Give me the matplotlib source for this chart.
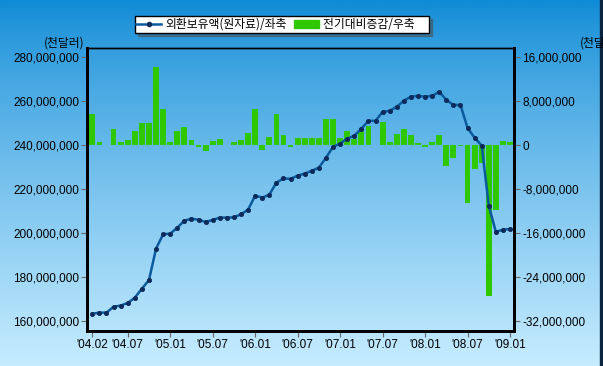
import numpy as np
import matplotlib.pyplot as plt
from matplotlib.lines import Line2D
from matplotlib.patches import Patch
from matplotlib.ticker import FuncFormatter

plt.rcParams['font.family'] = ['Liberation Sans', 'Noto Sans CJK KR', 'DejaVu Sans']

# 월 라벨 ('04.02 ~ '09.01)
months = []
for yy in range(4, 10):
    for mm in range(1, 13):
        months.append(f"'{yy:02d}.{mm:02d}")
months = months[1:61]

# 외환보유액 (백만 천달러 단위로 읽음)
reserves = [163.3, 163.8, 163.8, 166.5, 167.0, 168.2, 170.6, 174.7, 178.6, 192.9,
            199.4, 199.7, 202.4, 205.6, 206.5, 206.0, 205.0, 205.9, 207.0, 207.0,
            207.1, 208.5, 210.6, 217.0, 216.1, 217.4, 222.9, 224.8, 224.6, 226.1,
            227.0, 228.3, 229.7, 234.2, 239.2, 240.6, 242.9, 244.2, 247.4, 251.0,
            251.0, 255.1, 255.5, 257.4, 260.1, 262.0, 262.3, 262.0, 262.3, 264.2,
            260.5, 258.2, 258.2, 247.7, 243.3, 239.7, 212.4, 200.5, 201.5, 201.8]

# 전기대비증감 (백만 천달러)
change = [5.7, 0.55, 0.0, 2.9, 0.55, 0.9, 2.55, 4.06, 4.06, 14.2,
          6.55, 0.55, 2.6, 3.3, 0.97, -0.3, -1.0, 0.79, 1.15, 0.0,
          0.55, 0.97, 2.24, 6.55, -0.85, 1.45, 5.65, 1.85, -0.3, 1.27,
          1.27, 1.27, 1.27, 4.73, 4.73, 1.27, 2.55, 1.09, 2.55, 3.45,
          0.0, 4.18, 0.55, 2.0, 2.9, 1.85, 0.36, -0.3, 0.55, 1.8,
          -3.76, -2.3, -0.1, -10.5, -4.3, -3.3, -27.4, -11.8, 0.73, 0.55]

reserves = np.array(reserves) * 1e6
change = np.array(change) * 1e6
x = np.arange(len(months))

fig = plt.figure(figsize=(6.03, 3.66), dpi=100)

# 배경 그라데이션
bg = fig.add_axes([0, 0, 1, 1], zorder=-10)
t = np.linspace(0, 1, 256) ** 0.8
top = np.array([14, 138, 214]) / 255
bot = np.array([198, 236, 255]) / 255
grad = top[None, :] * (1 - t[:, None]) + bot[None, :] * t[:, None]
bg.imshow(grad[:, None, :], aspect='auto', extent=[0, 1, 0, 1])
bg.axvspan(0.995, 1.0, color='#0b2540')
bg.set_xlim(0, 1)
bg.set_ylim(0, 1)
bg.axis('off')

ax = fig.add_axes([0.1448, 0.0956, 0.7076, 0.7733])
ax2 = ax.twinx()
ax.set_zorder(2)
ax2.set_zorder(1)
ax.patch.set_visible(False)
ax2.patch.set_visible(False)

ax2.bar(x, change, width=0.82, color='#2ec700')
ax.plot(x, reserves, color='#0a5a9e', lw=1.8, marker='o', ms=3.0,
        mfc='#0d2a5a', mec='#0d2a5a', mew=0.6)

ax.set_xlim(-0.71, 59.56)
ax.set_ylim(155.45e6, 284.09e6)
ax2.set_ylim(-33.82e6, 17.64e6)
ax.set_yticks(np.arange(160e6, 281e6, 20e6))
ax2.set_yticks(np.arange(-32e6, 17e6, 8e6))
ax.yaxis.set_major_formatter(FuncFormatter(lambda v, p: f"{v:,.0f}"))
ax2.yaxis.set_major_formatter(FuncFormatter(lambda v, p: f"{v:,.0f}"))

tick_idx = [0, 5, 11, 17, 23, 29, 35, 41, 47, 53, 59]
ax.set_xticks(tick_idx)
ax.set_xticklabels([months[i] for i in tick_idx])

for a in (ax, ax2):
    a.tick_params(axis='both', labelsize=8.5, length=4, color='#666666',
                  width=0.8, pad=2)
    for s in a.spines.values():
        s.set_color('black')
    a.spines['left'].set_linewidth(2)
    a.spines['right'].set_linewidth(2)
    a.spines['bottom'].set_linewidth(2)
    a.spines['top'].set_linewidth(1)

fig.text(0.106, 0.882, '(천달러)', fontsize=8.5, ha='center', va='center',
         family=['Noto Sans CJK KR', 'DejaVu Sans'])
fig.text(0.962, 0.882, '(천달러)', fontsize=8.5, ha='left', va='center',
         family=['Noto Sans CJK KR', 'DejaVu Sans'])

handles = [Line2D([], [], color='#0a5a9e', lw=1.8, marker='o', ms=3,
                  mfc='#0d2a5a', mec='#0d2a5a'),
           Patch(color='#2ec700')]
leg = fig.legend(handles, ['외환보유액(원자료)/좌축', '전기대비증감/우축     '],
                 loc='center', bbox_to_anchor=(0.4677, 0.933), ncol=2,
                 frameon=True, fancybox=False, shadow=True,
                 prop={'family': ['Noto Sans CJK KR', 'DejaVu Sans'], 'size': 8.5},
                 borderpad=0.15, handlelength=2.1, handletextpad=0.35,
                 columnspacing=0.6, borderaxespad=0)
leg.get_frame().set_edgecolor('black')
leg.get_frame().set_linewidth(1)
leg.get_frame().set_alpha(1)

fig.savefig('out.png', dpi=100)
